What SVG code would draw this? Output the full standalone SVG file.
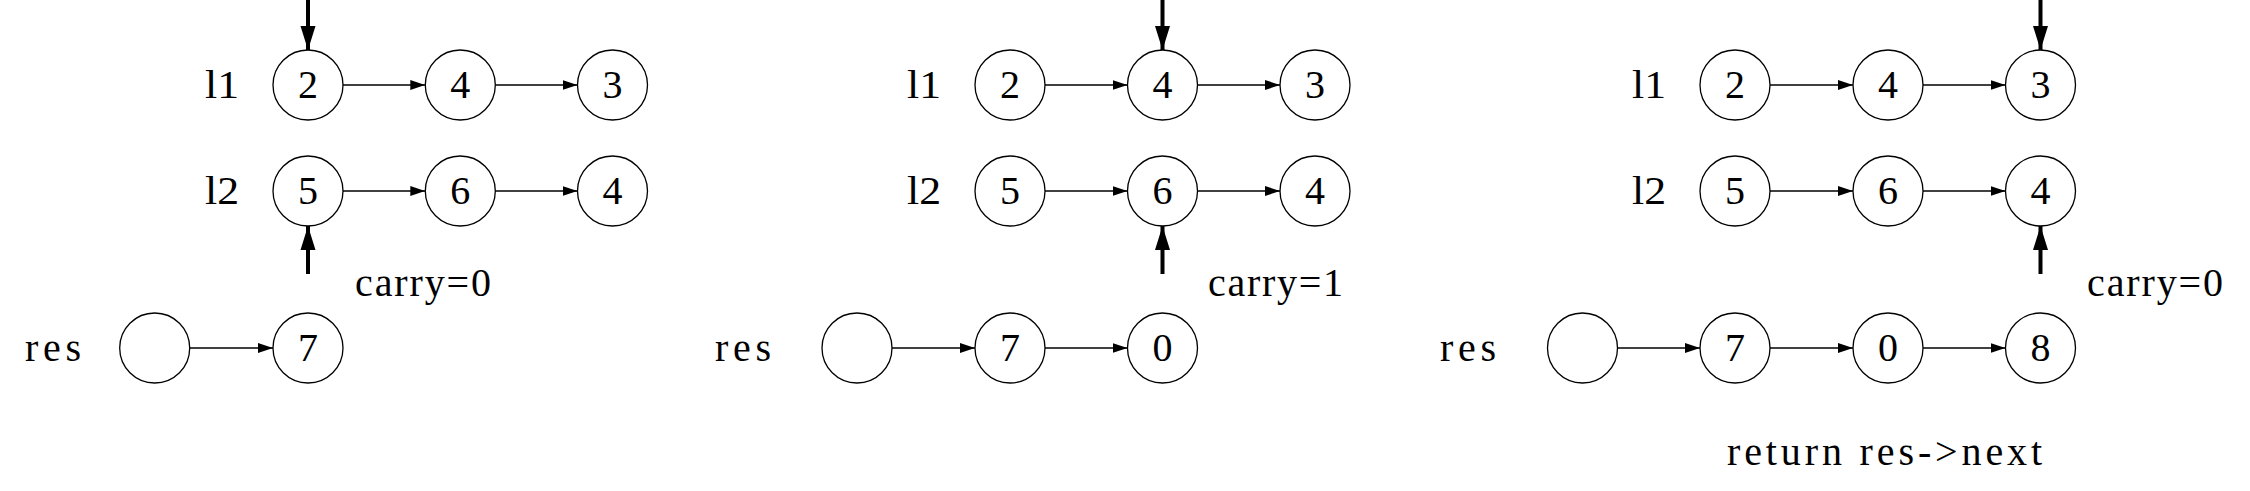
<svg xmlns="http://www.w3.org/2000/svg" width="2250" height="491" viewBox="0 0 2250 491">
<style>
.n{fill:#fff;stroke:#000;stroke-width:1.3}
.t{font-family:"Liberation Serif","DejaVu Serif",serif;font-size:40px;fill:#000}
.c{text-anchor:middle}
.e{stroke:#000;stroke-width:1.5;fill:none;marker-end:url(#a)}
.p{stroke:#000;stroke-width:4;fill:none;marker-end:url(#b)}
</style>
<defs>
<marker id="a" markerUnits="userSpaceOnUse" markerWidth="15" markerHeight="10" refX="15" refY="5" orient="auto"><path d="M0,0L15,5L0,10z" fill="#000"/></marker>
<marker id="b" markerUnits="userSpaceOnUse" markerWidth="24" markerHeight="16" refX="24" refY="8" orient="auto"><path d="M0,0.5L24,8L0,15.5z" fill="#000"/></marker>
</defs>
<rect width="2250" height="491" fill="#fff"/>

<!-- Panel 1 -->
<g id="p1-labels" class="t">
<text x="205" y="97.5" textLength="34" lengthAdjust="spacingAndGlyphs">l1</text>
<text x="205" y="203.5" textLength="34" lengthAdjust="spacingAndGlyphs">l2</text>
<text x="25" y="360.5" textLength="56" lengthAdjust="spacing">res</text>
<text x="355" y="296" textLength="136" lengthAdjust="spacing">carry=0</text>
</g>
<g id="p1-a1"><circle class="n" cx="308" cy="85" r="35"/><text class="t c" x="308" y="97.5">2</text></g>
<g id="p1-a2"><circle class="n" cx="460.3" cy="85" r="35"/><text class="t c" x="460.3" y="97.5">4</text></g>
<g id="p1-a3"><circle class="n" cx="612.5" cy="85" r="35"/><text class="t c" x="612.5" y="97.5">3</text></g>
<g id="p1-b1"><circle class="n" cx="308" cy="191" r="35"/><text class="t c" x="308" y="203.5">5</text></g>
<g id="p1-b2"><circle class="n" cx="460.3" cy="191" r="35"/><text class="t c" x="460.3" y="203.5">6</text></g>
<g id="p1-b3"><circle class="n" cx="612.5" cy="191" r="35"/><text class="t c" x="612.5" y="203.5">4</text></g>
<g id="p1-r0"><circle class="n" cx="154.7" cy="348" r="35"/></g>
<g id="p1-r1"><circle class="n" cx="308" cy="348" r="35"/><text class="t c" x="308" y="360.5">7</text></g>

<!-- Panel 2 -->
<g id="p2-labels" class="t">
<text x="907" y="97.5" textLength="34" lengthAdjust="spacingAndGlyphs">l1</text>
<text x="907" y="203.5" textLength="34" lengthAdjust="spacingAndGlyphs">l2</text>
<text x="715" y="360.5" textLength="56" lengthAdjust="spacing">res</text>
<text x="1208" y="296" textLength="135" lengthAdjust="spacing">carry=1</text>
</g>
<g id="p2-a1"><circle class="n" cx="1010" cy="85" r="35"/><text class="t c" x="1010" y="97.5">2</text></g>
<g id="p2-a2"><circle class="n" cx="1162.5" cy="85" r="35"/><text class="t c" x="1162.5" y="97.5">4</text></g>
<g id="p2-a3"><circle class="n" cx="1315" cy="85" r="35"/><text class="t c" x="1315" y="97.5">3</text></g>
<g id="p2-b1"><circle class="n" cx="1010" cy="191" r="35"/><text class="t c" x="1010" y="203.5">5</text></g>
<g id="p2-b2"><circle class="n" cx="1162.5" cy="191" r="35"/><text class="t c" x="1162.5" y="203.5">6</text></g>
<g id="p2-b3"><circle class="n" cx="1315" cy="191" r="35"/><text class="t c" x="1315" y="203.5">4</text></g>
<g id="p2-r0"><circle class="n" cx="857" cy="348" r="35"/></g>
<g id="p2-r1"><circle class="n" cx="1010" cy="348" r="35"/><text class="t c" x="1010" y="360.5">7</text></g>
<g id="p2-r2"><circle class="n" cx="1162.5" cy="348" r="35"/><text class="t c" x="1162.5" y="360.5">0</text></g>

<!-- Panel 3 -->
<g id="p3-labels" class="t">
<text x="1632" y="97.5" textLength="34" lengthAdjust="spacingAndGlyphs">l1</text>
<text x="1632" y="203.5" textLength="34" lengthAdjust="spacingAndGlyphs">l2</text>
<text x="1440" y="360.5" textLength="56" lengthAdjust="spacing">res</text>
<text x="2087" y="296" textLength="136" lengthAdjust="spacing">carry=0</text>
<text x="1727" y="465" textLength="315" lengthAdjust="spacing">return res-&gt;next</text>
</g>
<g id="p3-a1"><circle class="n" cx="1735" cy="85" r="35"/><text class="t c" x="1735" y="97.5">2</text></g>
<g id="p3-a2"><circle class="n" cx="1888" cy="85" r="35"/><text class="t c" x="1888" y="97.5">4</text></g>
<g id="p3-a3"><circle class="n" cx="2040.5" cy="85" r="35"/><text class="t c" x="2040.5" y="97.5">3</text></g>
<g id="p3-b1"><circle class="n" cx="1735" cy="191" r="35"/><text class="t c" x="1735" y="203.5">5</text></g>
<g id="p3-b2"><circle class="n" cx="1888" cy="191" r="35"/><text class="t c" x="1888" y="203.5">6</text></g>
<g id="p3-b3"><circle class="n" cx="2040.5" cy="191" r="35"/><text class="t c" x="2040.5" y="203.5">4</text></g>
<g id="p3-r0"><circle class="n" cx="1582.5" cy="348" r="35"/></g>
<g id="p3-r1"><circle class="n" cx="1735" cy="348" r="35"/><text class="t c" x="1735" y="360.5">7</text></g>
<g id="p3-r2"><circle class="n" cx="1888" cy="348" r="35"/><text class="t c" x="1888" y="360.5">0</text></g>
<g id="p3-r3"><circle class="n" cx="2040.5" cy="348" r="35"/><text class="t c" x="2040.5" y="360.5">8</text></g>

<g id="connectors">
<!-- panel 1 -->
<line class="e" x1="343" y1="85" x2="425.3" y2="85"/>
<line class="e" x1="495.3" y1="85" x2="577.5" y2="85"/>
<line class="e" x1="343" y1="191" x2="425.3" y2="191"/>
<line class="e" x1="495.3" y1="191" x2="577.5" y2="191"/>
<line class="e" x1="189.7" y1="348" x2="273" y2="348"/>
<line class="p" x1="308" y1="0" x2="308" y2="50"/>
<line class="p" x1="308" y1="274" x2="308" y2="226"/>
<!-- panel 2 -->
<line class="e" x1="1045" y1="85" x2="1127.5" y2="85"/>
<line class="e" x1="1197.5" y1="85" x2="1280" y2="85"/>
<line class="e" x1="1045" y1="191" x2="1127.5" y2="191"/>
<line class="e" x1="1197.5" y1="191" x2="1280" y2="191"/>
<line class="e" x1="892" y1="348" x2="975" y2="348"/>
<line class="e" x1="1045" y1="348" x2="1127.5" y2="348"/>
<line class="p" x1="1162.5" y1="0" x2="1162.5" y2="50"/>
<line class="p" x1="1162.5" y1="274" x2="1162.5" y2="226"/>
<!-- panel 3 -->
<line class="e" x1="1770" y1="85" x2="1853" y2="85"/>
<line class="e" x1="1923" y1="85" x2="2005.5" y2="85"/>
<line class="e" x1="1770" y1="191" x2="1853" y2="191"/>
<line class="e" x1="1923" y1="191" x2="2005.5" y2="191"/>
<line class="e" x1="1617.5" y1="348" x2="1700" y2="348"/>
<line class="e" x1="1770" y1="348" x2="1853" y2="348"/>
<line class="e" x1="1923" y1="348" x2="2005.5" y2="348"/>
<line class="p" x1="2040.5" y1="0" x2="2040.5" y2="50"/>
<line class="p" x1="2040.5" y1="274" x2="2040.5" y2="226"/>
</g>
</svg>
